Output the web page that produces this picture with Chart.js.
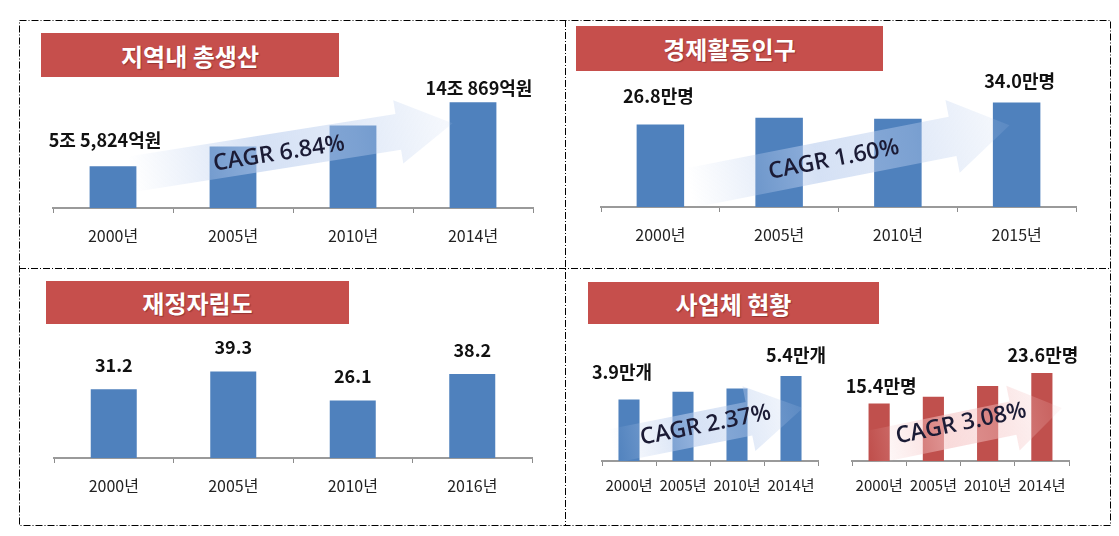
<!DOCTYPE html>
<html>
<head>
<meta charset="utf-8">
<script src="https://cdn.jsdelivr.net/npm/chart.js@4.4.0/dist/chart.umd.min.js"></script>
<style>
body { margin: 0; background: #fff; width: 1119px; height: 536px; position: relative; overflow: hidden; font-family: "Noto Sans CJK KR", sans-serif; }
.title { position: absolute; background: #c64f4c; color: #fff; font-weight: bold; font-size: 24px; display: flex; align-items: center; justify-content: center; text-shadow: 1px 1px 1px rgba(90, 20, 20, .45); }
canvas { position: absolute; }
svg { position: absolute; left: 0; top: 0; }
</style>
</head>
<body>
<svg width="1119" height="536">
  <g stroke="#000" stroke-width="1" fill="none" stroke-dasharray="7 2 1 2">
    <rect x="19.5" y="20.5" width="1091" height="505"/>
    <line x1="565.5" y1="20" x2="565.5" y2="525"/>
    <line x1="19" y1="268.5" x2="1110" y2="268.5"/>
  </g>
</svg>

<div class="title" style="left:41px;top:33px;width:298px;height:44px">지역내 총생산</div>
<div class="title" style="left:576px;top:26px;width:307px;height:45px">경제활동인구</div>
<div class="title" style="left:46px;top:281px;width:303px;height:43px">재정자립도</div>
<div class="title" style="left:588px;top:282px;width:291px;height:42px">사업체 현황</div>

<canvas id="grp" width="520" height="178" style="left:33px;top:70px"></canvas>
<canvas id="pop" width="515" height="177" style="left:581px;top:70px"></canvas>
<canvas id="fin" width="518" height="170" style="left:34px;top:328px"></canvas>
<canvas id="biz" width="256" height="161" style="left:582px;top:340px"></canvas>
<canvas id="wrk" width="257" height="161" style="left:832px;top:340px"></canvas>

<script>
// 지역내 총생산 (조원)
const grpYears = ["2000년", "2005년", "2010년", "2014년"];
const grpValues = [5.5824, 8.2, 11.0, 14.0869];
const grpLabels = ["5조 5,824억원", "", "", "14조 869억원"];

// 경제활동인구 (만명)
const popYears = ["2000년", "2005년", "2010년", "2015년"];
const popValues = [26.8, 29.0, 28.7, 34.0];
const popLabels = ["26.8만명", "", "", "34.0만명"];

// 재정자립도 (%)
const finYears = ["2000년", "2005년", "2010년", "2016년"];
const finValues = [31.2, 39.3, 26.1, 38.2];
const finLabels = ["31.2", "39.3", "26.1", "38.2"];

// 사업체 현황 : 사업체 수 (만개), 종사자 수 (만명)
const bizYears = ["2000년", "2005년", "2010년", "2014년"];
const bizValues = [3.9, 4.4, 4.6, 5.4];
const bizLabels = ["3.9만개", "", "", "5.4만개"];
const wrkValues = [15.4, 17.2, 20.1, 23.6];
const wrkLabels = ["15.4만명", "", "", "23.6만명"];

const cagrTexts = ["CAGR 6.84%", "CAGR 1.60%", "CAGR 2.37%", "CAGR 3.08%"];

const BLUE = "#4f81bd";
const RED = "#c0504d";
const KFONT = '"Noto Sans CJK KR", sans-serif';

// arrow + value labels
const decorPlugin = {
    id: "decor",
    afterDatasetsDraw(chart, args, opts) {
        const ctx = chart.ctx;
        const xs = chart.scales.x, ys = chart.scales.y;
        const x0 = xs.getPixelForValue(0);
        const step = xs.getPixelForValue(1) - x0;
        const pt = p => [x0 + p.cat * step, ys.getPixelForValue(p.val)];

        const a = opts.arrow;
        if (a) {
            const [tx, ty] = pt(a.from);
            const [px, py] = pt(a.to);
            const len = Math.hypot(px - tx, py - ty);
            const ux = (px - tx) / len, uy = (py - ty) / len;
            const nx = -uy, ny = ux;
            const bx = px - ux * a.headLen, by = py - uy * a.headLen;
            const w = a.band, h = a.head;
            ctx.save();
            const g = ctx.createLinearGradient(tx, ty, px, py);
            g.addColorStop(0, "rgba(" + a.rgb + ",0)");
            g.addColorStop(0.4, "rgba(" + a.rgb + ",0.6)");
            g.addColorStop(0.7, "rgba(" + a.rgb + ",0.42)");
            g.addColorStop(1, "rgba(" + a.rgb + ",0.12)");
            ctx.fillStyle = g;
            ctx.beginPath();
            ctx.moveTo(tx + nx * w, ty + ny * w);
            ctx.lineTo(bx + nx * w, by + ny * w);
            ctx.lineTo(bx + nx * h, by + ny * h);
            ctx.lineTo(px, py);
            ctx.lineTo(bx - nx * h, by - ny * h);
            ctx.lineTo(bx - nx * w, by - ny * w);
            ctx.lineTo(tx - nx * w, ty - ny * w);
            ctx.closePath();
            ctx.fill();

            // CAGR text along the arrow
            const cx = tx + (px - tx) * a.textAt, cy = ty + (py - ty) * a.textAt + a.textDy;
            ctx.translate(cx, cy);
            ctx.rotate(Math.atan2(py - ty, px - tx));
            ctx.font = '600 23px "Open Sans", "Noto Sans", sans-serif';
            ctx.fillStyle = "#1b1b35";
            ctx.textAlign = "center";
            ctx.textBaseline = "middle";
            ctx.fillText(a.text, 0, 0);
            ctx.restore();
        }

        // value labels
        const bars = chart.getDatasetMeta(0).data;
        ctx.save();
        ctx.font = "bold 18px " + KFONT;
        ctx.fillStyle = "#111";
        ctx.textAlign = "center";
        ctx.textBaseline = "middle";
        opts.labels.forEach((t, i) => {
            if (!t) return;
            const off = opts.offsets[i];
            ctx.fillText(t, bars[i].x + off[0], bars[i].y + off[1]);
        });
        ctx.restore();
    }
};

function barChart(id, cats, values, labels, color, cfg) {
    return new Chart(document.getElementById(id), {
        type: "bar",
        data: {
            labels: cats,
            datasets: [{
                data: values,
                backgroundColor: color,
                borderWidth: 0,
                barPercentage: cfg.barPct,
                categoryPercentage: 1
            }]
        },
        options: {
            responsive: false,
            animation: false,
            devicePixelRatio: 1,
            layout: { padding: cfg.pad },
            plugins: {
                legend: { display: false },
                tooltip: { enabled: false },
                decor: { labels: labels, offsets: cfg.offsets, arrow: cfg.arrow }
            },
            scales: {
                x: {
                    grid: { drawOnChartArea: false, tickLength: 5, color: "#8c8c8c", lineWidth: 1 },
                    border: { color: "#9a9a9a", width: 2 },
                    ticks: {
                        font: { family: KFONT, size: cfg.tickSize },
                        color: "#222",
                        padding: cfg.tickPad,
                        maxRotation: 0,
                        autoSkip: false
                    },
                    afterFit: s => { s.height = 40; }
                },
                y: { display: false, min: 0, max: cfg.yMax }
            }
        },
        plugins: [decorPlugin]
    });
}

barChart("grp", grpYears, grpValues, grpLabels, BLUE, {
    yMax: 16, barPct: 0.39, tickSize: 16, tickPad: 13,
    pad: { left: 20, right: 20, top: 18, bottom: 0 },
    offsets: [[-8, -26], [0, 0], [0, 0], [6, -14]],
    arrow: { from: { cat: 0.15, val: 4.5 }, to: { cat: 2.83, val: 11.3 }, band: 18, head: 32, headLen: 55,
             rgb: "185,205,238", text: cagrTexts[0], textAt: 0.46, textDy: 3 }
});

barChart("pop", popYears, popValues, popLabels, BLUE, {
    yMax: 39, barPct: 0.4, tickSize: 16, tickPad: 13,
    pad: { left: 20, right: 20, top: 17, bottom: 0 },
    offsets: [[-2, -28], [0, 0], [0, 0], [3, -21]],
    arrow: { from: { cat: 0.25, val: 6.2 }, to: { cat: 2.94, val: 26.6 }, band: 20, head: 37, headLen: 58,
             rgb: "185,205,238", text: cagrTexts[1], textAt: 0.45, textDy: 0 }
});

barChart("fin", finYears, finValues, finLabels, BLUE, {
    yMax: 54.5, barPct: 0.385, tickSize: 16, tickPad: 13,
    pad: { left: 20, right: 20, top: 10, bottom: 0 },
    offsets: [[0, -24], [0, -24], [0, -24], [0, -24]],
    arrow: null
});

barChart("biz", bizYears, bizValues, bizLabels, BLUE, {
    yMax: 6.35, barPct: 0.39, tickSize: 15, tickPad: 10,
    pad: { left: 20, right: 20, top: 21, bottom: 0 },
    offsets: [[-7, -27], [0, 0], [0, 0], [5, -21]],
    arrow: { from: { cat: -0.31, val: 0.95 }, to: { cat: 3.22, val: 3.37 }, band: 17, head: 33, headLen: 55,
             rgb: "185,205,238", text: cagrTexts[2], textAt: 0.49, textDy: -2 }
});

barChart("wrk", bizYears, wrkValues, wrkLabels, RED, {
    yMax: 26.8, barPct: 0.39, tickSize: 15, tickPad: 10,
    pad: { left: 20, right: 20, top: 21, bottom: 0 },
    offsets: [[2, -17], [0, 0], [0, 0], [1, -18]],
    arrow: { from: { cat: -0.2, val: 3.5 }, to: { cat: 3.37, val: 14.2 }, band: 17, head: 33, headLen: 50,
             rgb: "245,195,195", text: cagrTexts[3], textAt: 0.48, textDy: -5 }
});
</script>
</body>
</html>
